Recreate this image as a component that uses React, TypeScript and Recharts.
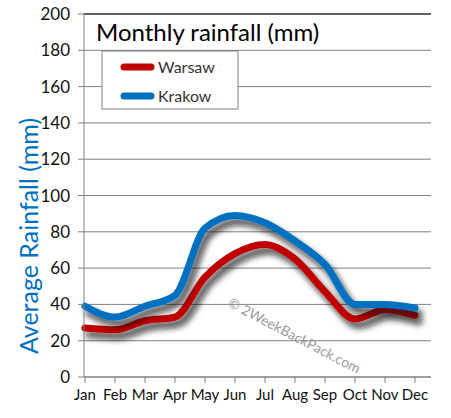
import { LineChart, Line, XAxis, YAxis, CartesianGrid, ReferenceLine } from 'recharts';

const months = ['Jan', 'Feb', 'Mar', 'Apr', 'May', 'Jun', 'Jul', 'Aug', 'Sep', 'Oct', 'Nov', 'Dec'];
const warsaw = [27, 26, 31, 33, 55, 68, 73, 65, 47, 32, 37, 34];
const krakow = [39, 33, 39, 45, 82, 89, 85, 75, 62, 40, 40, 38];
const yTicks = [0, 20, 40, 60, 80, 100, 120, 140, 160, 180, 200];

const RED = '#C00000';
const BLUE = '#0070C0';
const FONT = 'Lato, "Open Sans", sans-serif';

const data = months.map((m, i) => ({ month: m, warsaw: warsaw[i], krakow: krakow[i] }));

export default function App() {
  return (
    <div style={{ position: 'absolute', left: 0, top: 0, width: 451, height: 418, background: '#fff' }}>
      <LineChart width={451} height={418} data={data} margin={{ top: 14, right: 20, left: 0, bottom: 0 }}>
        <defs>
          <filter id="shadow" x="-10%" y="-20%" width="130%" height="150%">
            <feDropShadow dx={4} dy={6} stdDeviation={3} floodColor="#111" floodOpacity={0.8} />
          </filter>
        </defs>
        <CartesianGrid vertical={false} stroke="#808080" />
        <XAxis
          dataKey="month"
          padding={{ left: 1, right: 16 }}
          height={41}
          stroke="#808080"
          tickSize={6}
          interval={0}
          tick={{ fill: '#111', fontSize: 15, fontFamily: FONT }}
          tickMargin={6}
        />
        <YAxis
          domain={[0, 200]}
          ticks={yTicks}
          width={84}
          stroke="#808080"
          tickSize={6}
          tickMargin={8}
          tick={{ fill: '#111', fontSize: 17, fontFamily: FONT }}
          interval={0}
        />
        <YAxis yAxisId="r" orientation="right" width={0} tick={false} stroke="#000" domain={[0, 200]} />
        <ReferenceLine y={200} stroke="#000" />
        <text
          x={292}
          y={340}
          transform="rotate(27.5 292 340)"
          textAnchor="middle"
          fill="#9a9a9a"
          fontSize={14}
          fontFamily={FONT}
        >
          © 2WeekBackPack.com
        </text>
        <Line
          type="monotone"
          dataKey="warsaw"
          name="Warsaw"
          stroke={RED}
          strokeWidth={7}
          dot={false}
          strokeLinecap="round"
          filter="url(#shadow)"
          isAnimationActive={false}
        />
        <Line
          type="monotone"
          dataKey="krakow"
          name="Krakow"
          stroke={BLUE}
          strokeWidth={7}
          dot={false}
          strokeLinecap="round"
          filter="url(#shadow)"
          isAnimationActive={false}
        />
        <text x={96} y={41} fill="#000" fontSize={24} fontFamily={FONT}>
          Monthly rainfall (mm)
        </text>
        <g>
          <rect x={102} y={51} width={136} height={58} fill="#fff" stroke="#808080" />
          <line x1={124} y1={67} x2={151} y2={67} stroke={RED} strokeWidth={7} strokeLinecap="round" />
          <text x={158} y={73} fill="#333" fontSize={16} fontFamily={FONT}>Warsaw</text>
          <line x1={124} y1={96} x2={151} y2={96} stroke={BLUE} strokeWidth={7} strokeLinecap="round" />
          <text x={158} y={102} fill="#333" fontSize={16} fontFamily={FONT}>Krakow</text>
        </g>
        <text
          x={38}
          y={236}
          transform="rotate(-90 38 236)"
          textAnchor="middle"
          fill={BLUE}
          fontSize={25}
          fontFamily={FONT}
        >
          Average Rainfall (mm)
        </text>
      </LineChart>
    </div>
  );
}
